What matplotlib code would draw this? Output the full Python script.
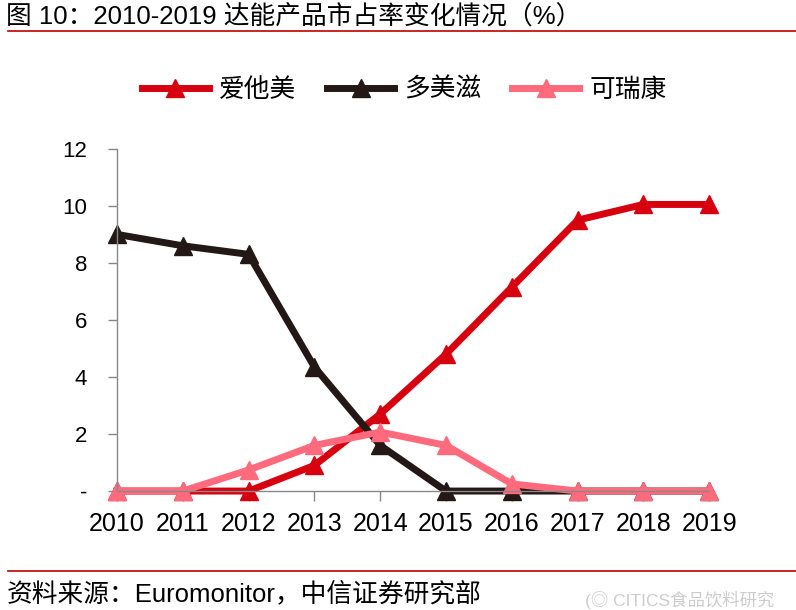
import matplotlib
matplotlib.use('Agg')
import matplotlib.pyplot as plt
from matplotlib.lines import Line2D

plt.rcParams['font.family'] = ['Liberation Sans', 'Noto Sans CJK SC', 'DejaVu Sans']

years = [2010, 2011, 2012, 2013, 2014, 2015, 2016, 2017, 2018, 2019]
aptamil = [0, 0, 0, 0.9, 2.7, 4.8, 7.15, 9.5, 10.05, 10.05]    # 爱他美
dumex = [9.0, 8.6, 8.3, 4.35, 1.6, 0, 0, 0, 0, 0]             # 多美滋
karicare = [0, 0, 0.74, 1.6, 2.07, 1.6, 0.25, 0, 0, 0]        # 可瑞康
names = ['爱他美', '多美滋', '可瑞康']
colors = ['#d7000f', '#231815', '#ff6a7c']
ytick_vals = [0, 2, 4, 6, 8, 10, 12]
ytick_labels = ['-', '2', '4', '6', '8', '10', '12']

fig = plt.figure(figsize=(7.96, 6.10), dpi=100)
ax = fig.add_axes([0.147, 0.195, 0.744, 0.561])

for vals, c, n in zip([aptamil, dumex, karicare], colors, names):
    ax.plot(years, vals, color=c, lw=5, marker='^', ms=12.5, label=n,
            clip_on=False, solid_joinstyle='miter')

ax.set_xlim(2010, 2019)
ax.set_ylim(0, 12)
ax.set_xticks(years)
ax.set_xticklabels([str(y) for y in years])
ax.set_yticks(ytick_vals)
ax.set_yticklabels(ytick_labels)
ax.tick_params(axis='both', colors='#888888', labelcolor='black', width=1)
ax.tick_params(axis='x', labelsize=18, length=7, pad=8)
ax.tick_params(axis='y', labelsize=16, length=6.5, pad=15)
for s in ['top', 'right']:
    ax.spines[s].set_visible(False)
for s in ['left', 'bottom']:
    ax.spines[s].set_color('#888888')
    ax.spines[s].set_linewidth(1)

handles = [Line2D([], [], color=c, lw=5, marker='^', ms=12.5) for c in colors]
fig.legend(handles, names, loc='center', bbox_to_anchor=(0.508, 0.853), ncol=3,
           frameon=False, fontsize=18.5, handlelength=2.6, columnspacing=1.2,
           handletextpad=0.4)

# header and footer
fig.text(0.008, 0.972, '图 10：2010-2019 达能产品市占率变化情况（%）', fontsize=18.5,
         va='center', ha='left')
fig.add_artist(Line2D([0.01, 1.0], [0.949, 0.949], color='#c00000', lw=1.2))
fig.add_artist(Line2D([0.01, 1.0], [0.064, 0.064], color='#c00000', lw=1.2))
fig.text(0.008, 0.026, '资料来源：Euromonitor，中信证券研究部', fontsize=18.5,
         va='center', ha='left')
fig.text(0.735, 0.016, '(◎ CITICS食品饮料研究', fontsize=12.5, color='#cccccc',
         va='center', ha='left')

fig.savefig('out.png', dpi=100)
